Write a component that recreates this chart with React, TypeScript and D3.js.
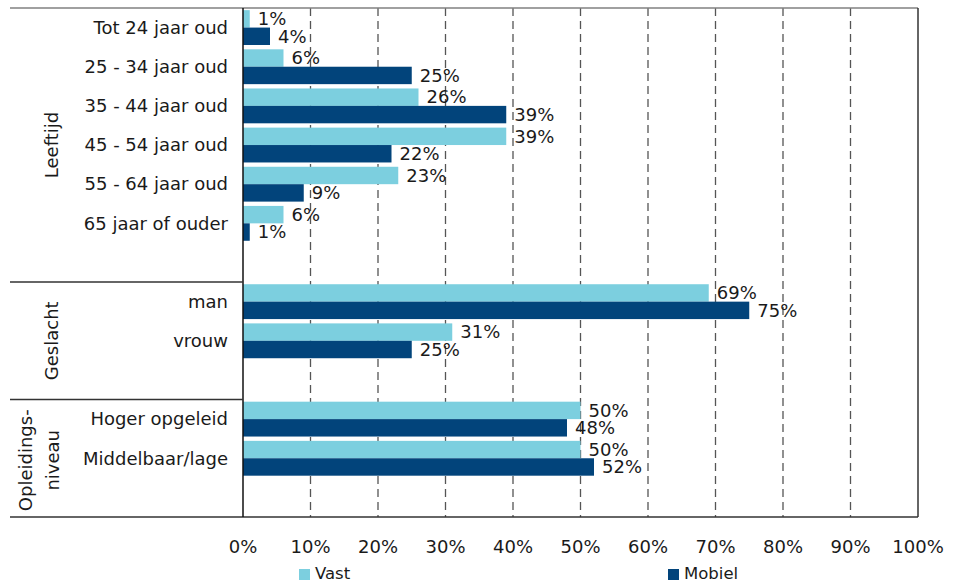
import React from "react";
import * as d3 from "d3";

const groups = ["Leeftijd", "Geslacht", "Opleidings-niveau"];
const categories = [
  "Tot 24 jaar oud", "25 - 34 jaar oud", "35 - 44 jaar oud", "45 - 54 jaar oud",
  "55 - 64 jaar oud", "65 jaar of ouder", "",
  "man", "vrouw", "",
  "Hoger opgeleid", "Middelbaar/lage", "",
];
const categoryGroup = [0, 0, 0, 0, 0, 0, 0, 1, 1, 1, 2, 2, 2];
const vast: (number | null)[] = [1, 6, 26, 39, 23, 6, null, 69, 31, null, 50, 50, null];
const mobiel: (number | null)[] = [4, 25, 39, 22, 9, 1, null, 75, 25, null, 48, 52, null];
const xTicks = [0, 10, 20, 30, 40, 50, 60, 70, 80, 90, 100];
const seriesNames = ["Vast", "Mobiel"];
const colors = ["#7ccfdf", "#02447b"];

const FONT = "'DejaVu Sans', Verdana, sans-serif";

export default function App() {
  const W = 953, H = 586;
  const x0 = 243, x1 = 918, yTop = 8, yBot = 517, leftEdge = 10;
  const x = d3.scaleLinear().domain([0, 100]).range([x0, x1]);
  const keys = categories.map((_, i) => String(i));
  const y = d3.scaleBand<string>().domain(keys).range([yTop, yBot]).paddingInner(0).paddingOuter(0);
  const bw = y.bandwidth();
  const barH = bw * 0.445;
  const series = [vast, mobiel];

  // group extents
  const groupExtents = groups.map((_, g) => {
    const idx = categoryGroup.map((v, i) => (v === g ? i : -1)).filter((i) => i >= 0);
    const top = y(String(idx[0]))!;
    const bot = y(String(idx[idx.length - 1]))! + bw;
    return [top, bot];
  });

  return (
    <svg width={W} height={H} style={{ position: "absolute", left: 0, top: 0 }} fontFamily={FONT}>
      <rect width={W} height={H} fill="#fff" />
      {/* gridlines */}
      {xTicks.filter((t) => t > 0 && t < 100).map((t) => (
        <line key={t} x1={x(t)} x2={x(t)} y1={yTop} y2={yBot} stroke="#555" strokeWidth={1.3} strokeDasharray="8,5" />
      ))}
      {/* bars */}
      {series.map((s, si) =>
        s.map((v, i) =>
          v == null ? null : (
            <rect key={`${si}-${i}`} x={x(0)} y={y(String(i))! + bw / 2 - barH + si * barH} width={x(v) - x(0)} height={barH} fill={colors[si]} />
          )
        )
      )}
      {/* value labels */}
      {series.map((s, si) =>
        s.map((v, i) =>
          v == null ? null : (
            <text key={`l${si}-${i}`} x={x(v) + 8} y={y(String(i))! + bw / 2 - barH / 2 + si * barH} dy="0.35em" fontSize={18} fill="#1a1a1a">
              {v}%
            </text>
          )
        )
      )}
      {/* frame */}
      <line x1={leftEdge} x2={x1} y1={yTop} y2={yTop} stroke="#808080" strokeWidth={1.5} />
      <line x1={leftEdge} x2={x1} y1={yBot} y2={yBot} stroke="#333" strokeWidth={1.5} />
      <line x1={x0} x2={x0} y1={yTop} y2={yBot} stroke="#111" strokeWidth={1.5} />
      <line x1={x1} x2={x1} y1={yTop} y2={yBot} stroke="#333" strokeWidth={1.5} />
      {groupExtents.slice(1).map(([top], g) => (
        <line key={g} x1={leftEdge} x2={x0} y1={top} y2={top} stroke="#333" strokeWidth={1.5} />
      ))}
      {/* category labels */}
      {categories.map((c, i) =>
        c ? (
          <text key={c} x={228} y={y(String(i))! + bw / 2} dy="0.35em" textAnchor="end" fontSize={18} fill="#1a1a1a">
            {c}
          </text>
        ) : null
      )}
      {/* group labels */}
      {groups.map((g, gi) => {
        const cy = (groupExtents[gi][0] + groupExtents[gi][1]) / 2;
        const lines = g === "Opleidings-niveau" ? ["Opleidings-", "niveau"] : [g];
        return lines.map((ln, li) => {
          const cx = lines.length === 1 ? 52 : 26 + li * 27;
          return (
            <text key={`${gi}-${li}`} transform={`translate(${cx},${cy + (lines.length > 1 ? 2 : 0)}) rotate(-90)`} dy="0.35em" textAnchor="middle" fontSize={18} fill="#1a1a1a">
              {ln}
            </text>
          );
        });
      })}
      {/* x-axis labels */}
      {xTicks.map((t) => (
        <text key={t} x={x(t)} y={553} textAnchor="middle" fontSize={18} fill="#1a1a1a">
          {t}%
        </text>
      ))}
      {/* legend */}
      {seriesNames.map((n, i) => {
        const lx = i === 0 ? 299 : 668;
        return (
          <g key={n}>
            <rect x={lx} y={569} width={11} height={11} fill={colors[i]} />
            <text x={lx + 16} y={579} fontSize={16.5} fill="#1a1a1a">{n}</text>
          </g>
        );
      })}
    </svg>
  );
}
